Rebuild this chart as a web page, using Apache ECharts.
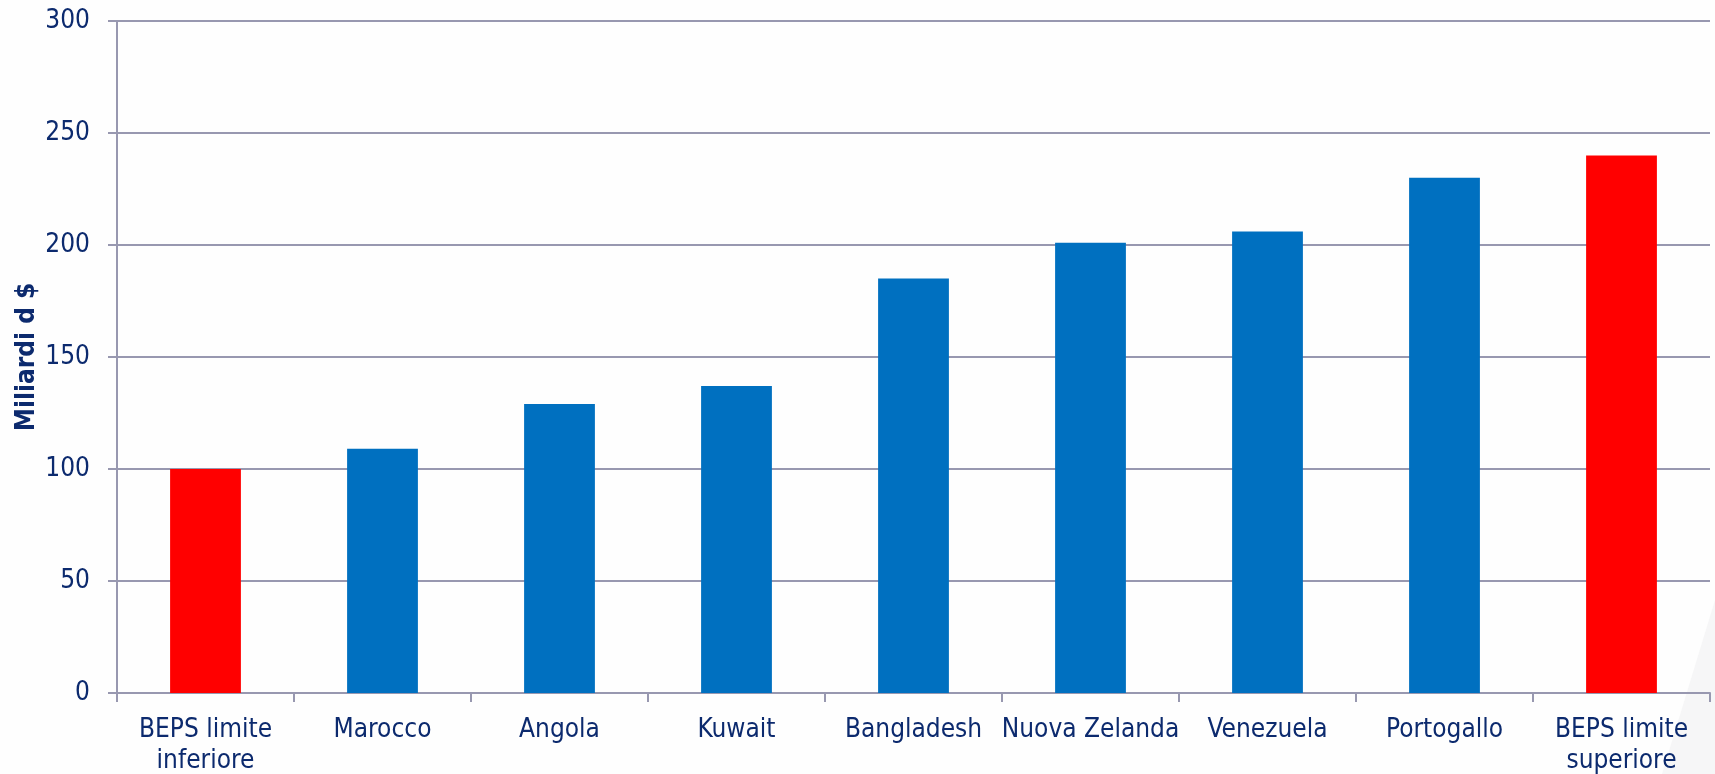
<!DOCTYPE html>
<html>
<head>
<meta charset="utf-8">
<script src="https://cdn.jsdelivr.net/npm/echarts@6/dist/echarts.min.js"></script>
<style>html,body{margin:0;padding:0;background:#fefefe;}#c{width:1715px;height:774px;}</style>
</head>
<body>
<div id="c"></div>
<script>
const categories = ['BEPS limite\ninferiore','Marocco','Angola','Kuwait','Bangladesh','Nuova Zelanda','Venezuela','Portogallo','BEPS limite\nsuperiore'];
const values = [100, 109, 129, 137, 185, 201, 206, 230, 240];
const highlighted = [true, false, false, false, false, false, false, false, true];
const yTicks = {min: 0, max: 300, interval: 50};
const yName = 'Miliardi d $';

const FONT = '"DejaVu Sans Condensed", "DejaVu Sans", sans-serif';
const TXT = '#0c2a6e';
const LINE = '#9898b0';

const chart = echarts.init(document.getElementById('c'), null, {renderer: 'canvas'});
chart.setOption({
  backgroundColor: '#fefefe',
  animation: false,
  graphic: [{
    type: 'polygon', silent: true, z: -10,
    shape: {points: [[1662, 774], [1715, 774], [1715, 600]]},
    style: {fill: '#f6f6f7'}
  }],
  grid: {left: 117, right: 5, top: 21, bottom: 81, containLabel: false, outerBoundsMode: 'none'},
  xAxis: {
    type: 'category',
    data: categories,
    axisLine: {lineStyle: {color: LINE, width: 2}},
    axisTick: {show: true, length: 9, alignWithLabel: false, lineStyle: {color: LINE, width: 2}},
    axisLabel: {color: TXT, fontFamily: FONT, fontSize: 26, lineHeight: 31, margin: 22, interval: 0}
  },
  yAxis: {
    type: 'value',
    min: yTicks.min, max: yTicks.max, interval: yTicks.interval,
    name: yName,
    nameLocation: 'middle',
    nameGap: 77,
    nameMoveOverlap: false,
    nameTextStyle: {color: TXT, fontFamily: FONT, fontSize: 26, fontWeight: 'bold'},
    axisLine: {show: true, lineStyle: {color: LINE, width: 2}},
    axisTick: {show: true, length: 9, lineStyle: {color: LINE, width: 2}},
    axisLabel: {color: TXT, fontFamily: FONT, fontSize: 26, margin: 27},
    splitLine: {lineStyle: {color: LINE, width: 2}}
  },
  series: [{
    type: 'bar',
    barWidth: '40%',
    data: values.map((v, i) => ({value: v, itemStyle: {color: highlighted[i] ? '#ff0000' : '#0070c0'}}))
  }]
});
</script>
</body>
</html>
